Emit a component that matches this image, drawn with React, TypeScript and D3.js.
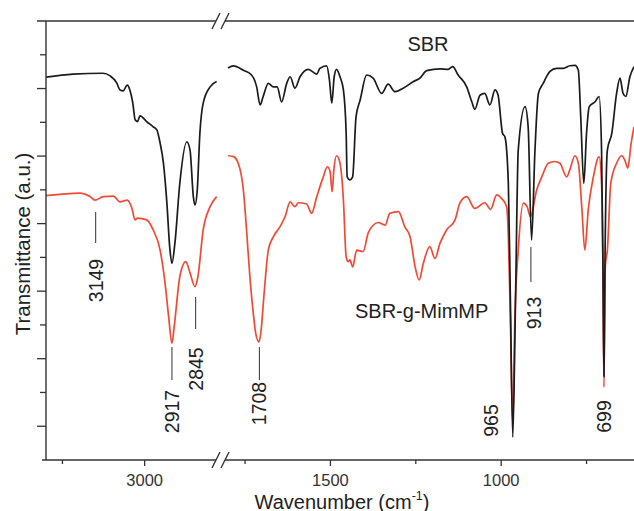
import React from "react";
import * as d3 from "d3";

// ---------- data (wavenumber cm-1, transmittance a.u.) ----------
const sbrHigh: [number, number][] = [
  [3300, 87.2], [3218, 87.9], [3127, 88.1], [3105, 87.5], [3085, 85.9], [3075, 84.3], [3065, 84.1],
  [3053, 85.4], [3045, 84.3], [3036, 81.3], [3029, 77.5], [3022, 77.1], [3014, 78.4], [2994, 77.1],
  [2974, 75.9], [2963, 75.2], [2953, 72.2], [2943, 67.7], [2933, 59.2], [2923, 47.8], [2917, 44.8],
  [2908, 49.4], [2893, 63.1], [2872, 72.5], [2862, 70.6], [2852, 60.0], [2847, 58.1], [2840, 61.5],
  [2832, 74.5], [2822, 81.3], [2801, 85.0], [2781, 86.2],
];

const graftHigh: [number, number][] = [
  [3300, 60.2], [3197, 60.8], [3166, 60.0], [3151, 59.2], [3126, 60.0], [3095, 60.1], [3075, 58.8],
  [3053, 59.2], [3039, 57.4], [3029, 54.7], [3022, 55.1], [2994, 54.7], [2974, 52.4], [2953, 47.8],
  [2938, 40.3], [2927, 32.6], [2917, 26.6], [2909, 31.2], [2893, 41.8], [2875, 45.2], [2862, 42.6],
  [2847, 39.5], [2838, 41.8], [2822, 52.4], [2801, 57.7], [2781, 60.0],
];

const sbrLow: [number, number][] = [
  [1800, 89.3], [1784, 89.8], [1755, 88.8], [1731, 87.7], [1716, 85.0], [1706, 80.9], [1697, 82.8],
  [1682, 85.8], [1667, 85.0], [1656, 85.0], [1643, 81.6], [1628, 85.8], [1618, 87.3], [1604, 84.7],
  [1589, 87.3], [1565, 89.0], [1540, 87.9], [1531, 89.2], [1511, 89.8], [1503, 86.6], [1496, 81.3],
  [1489, 87.3], [1482, 89.0], [1472, 87.3], [1462, 84.3], [1454, 74.5], [1451, 64.5], [1443, 63.8],
  [1435, 64.5], [1425, 78.2], [1413, 82.0], [1394, 87.7], [1375, 87.0], [1350, 83.5], [1331, 85.6],
  [1311, 83.9], [1287, 84.7], [1257, 86.2], [1238, 87.0], [1218, 88.7], [1179, 89.1], [1155, 89.0],
  [1142, 89.6], [1126, 87.7], [1101, 85.0], [1086, 81.6], [1077, 79.9], [1062, 83.1], [1048, 83.5],
  [1033, 80.9], [1018, 84.3], [1009, 83.1], [996, 74.4], [989, 73.6], [979, 63.1], [973, 36.4],
  [966, 5.2], [958, 36.4], [950, 70.6], [930, 80.5], [921, 75.9], [911, 50.1], [901, 70.6],
  [891, 83.5], [877, 85.8], [857, 88.5], [838, 89.2], [818, 89.2], [799, 89.8], [784, 89.9],
  [774, 88.8], [767, 78.2], [758, 63.0], [750, 74.4], [742, 80.5], [725, 81.6], [713, 82.8],
  [706, 70.6], [702, 45.0], [699, 19.0], [696, 45.0], [689, 70.6], [676, 74.4], [662, 83.5],
  [652, 87.0], [643, 83.5], [635, 82.8], [623, 87.3], [611, 89.6],
];

const graftLow: [number, number][] = [
  [1800, 69.3], [1784, 69.1], [1770, 67.6], [1755, 61.5], [1745, 51.7], [1736, 41.8], [1727, 34.2],
  [1718, 28.5], [1709, 26.9], [1703, 29.6], [1695, 37.2], [1682, 47.8], [1667, 50.9], [1648, 53.1],
  [1633, 55.4], [1618, 58.8], [1604, 57.7], [1594, 58.6], [1570, 58.3], [1555, 56.2], [1540, 60.0],
  [1521, 64.5], [1509, 66.8], [1501, 65.7], [1495, 61.1], [1490, 66.1], [1482, 69.3], [1472, 67.6],
  [1462, 59.2], [1454, 46.3], [1448, 45.2], [1443, 45.6], [1435, 44.0], [1423, 47.8], [1404, 47.5],
  [1389, 51.8], [1360, 54.1], [1340, 53.5], [1326, 56.2], [1301, 56.6], [1282, 53.1], [1267, 50.9],
  [1252, 44.0], [1240, 41.0], [1228, 44.8], [1209, 48.6], [1194, 45.9], [1179, 49.4], [1160, 52.4],
  [1135, 54.7], [1121, 58.5], [1101, 60.0], [1077, 57.3], [1048, 58.6], [1031, 57.1], [1013, 60.4],
  [999, 59.6], [984, 57.7], [979, 50.9], [973, 31.9], [966, 8.0], [960, 31.9], [950, 47.8],
  [935, 58.5], [924, 57.7], [914, 55.4], [896, 61.5], [881, 64.5], [862, 67.6], [843, 68.0],
  [828, 67.6], [808, 64.5], [799, 66.1], [784, 69.3], [774, 67.6], [764, 57.7], [755, 47.8],
  [745, 57.0], [730, 64.5], [713, 69.1], [706, 63.0], [702, 44.0], [699, 16.6], [695, 44.2],
  [689, 47.8], [679, 63.0], [662, 67.6], [647, 69.3], [638, 68.3], [629, 66.5], [620, 71.8],
  [611, 75.9],
];

const xMajorTicks = [3000, 1500, 1000];
const xMinorTicks = [3250, 1750, 1250, 750];
const peakLabels = [3149, 2917, 2845, 1708, 965, 913, 699];
const seriesNames = ["SBR", "SBR-g-MimMP"];

// ---------- layout ----------
const W = 634;
const H = 511;
const LEFT = 46;
const TOP = 21;
const BOTTOM = 460;
const BREAK_L = 217;
const BREAK_R = 228;
const RIGHT = 634;

const annotLayout: Record<number, { line: [number, number] | null; textY: number; dx: number }> = {
  3149: { line: [212, 243], textY: 280.5, dx: 0 },
  2917: { line: [347, 380], textY: 411.5, dx: 0 },
  2845: { line: [297, 329], textY: 369, dx: 0 },
  1708: { line: [347, 380], textY: 403.5, dx: 0 },
  965: { line: null, textY: 420.5, dx: -22 },
  913: { line: [247, 282], textY: 313, dx: 3 },
  699: { line: null, textY: 416.5, dx: 0 },
};

const BLACK = "#1b1b1b";
const RED = "#ef4a33";
const AXIS = "#333";
const FONT = "'Liberation Sans', Arial, Helvetica, sans-serif";

export default function App() {
  const xL = d3.scaleLinear().domain([3300, 2780]).range([LEFT, BREAK_L]);
  const xR = d3.scaleLinear().domain([1800, 611]).range([BREAK_R, RIGHT]);
  const y = d3.scaleLinear().domain([0, 100]).range([BOTTOM, TOP]);
  const xAny = (w: number) => (w > 2000 ? xL(w) : xR(w));

  const lineL = d3
    .line<[number, number]>()
    .x((d) => xL(d[0]))
    .y((d) => y(d[1]))
    .curve(d3.curveMonotoneX);
  const lineR = d3
    .line<[number, number]>()
    .x((d) => xR(d[0]))
    .y((d) => y(d[1]))
    .curve(d3.curveMonotoneX);

  const yTicks = d3.range(1, 13).map((i) => ({ v: (i * 100) / 13, major: i % 2 === 1 }));

  const slash = (cx: number, cy: number, key: string) => (
    <line key={key} x1={cx - 4} y1={cy + 8} x2={cx + 4} y2={cy - 8} stroke={AXIS} strokeWidth={1.4} />
  );

  return (
    <div style={{ position: "fixed", left: 0, top: 0 }}>
      <svg width={W} height={H} style={{ display: "block", background: "#fff" }} fontFamily={FONT}>
        <defs>
          <clipPath id="clipL">
            <rect x={LEFT} y={TOP} width={BREAK_L - LEFT + 1} height={BOTTOM - TOP} />
          </clipPath>
          <clipPath id="clipR">
            <rect x={BREAK_R - 1} y={TOP} width={RIGHT - BREAK_R + 1} height={BOTTOM - TOP} />
          </clipPath>
        </defs>

        {/* curves */}
        <g clipPath="url(#clipL)" fill="none" strokeWidth={1.7} strokeLinejoin="round">
          <path d={lineL(graftHigh) || ""} stroke={RED} />
          <path d={lineL(sbrHigh) || ""} stroke={BLACK} />
        </g>
        <g clipPath="url(#clipR)" fill="none" strokeWidth={1.7} strokeLinejoin="round">
          <path d={lineR(graftLow) || ""} stroke={RED} />
          <path d={lineR(sbrLow) || ""} stroke={BLACK} />
        </g>

        {/* axes */}
        <line x1={LEFT} y1={TOP} x2={LEFT} y2={BOTTOM} stroke={AXIS} strokeWidth={1.4} />
        <line x1={37} y1={TOP} x2={216} y2={TOP} stroke={AXIS} strokeWidth={1.4} />
        <line x1={225} y1={TOP} x2={RIGHT} y2={TOP} stroke={AXIS} strokeWidth={1.4} />
        <line x1={42} y1={BOTTOM} x2={216} y2={BOTTOM} stroke={AXIS} strokeWidth={1.4} />
        <line x1={225} y1={BOTTOM} x2={RIGHT} y2={BOTTOM} stroke={AXIS} strokeWidth={1.4} />
        {slash(216, TOP, "t1")}
        {slash(225, TOP, "t2")}
        {slash(216, BOTTOM, "b1")}
        {slash(225, BOTTOM, "b2")}

        {yTicks.map((t, i) => (
          <line key={"yt" + i} x1={LEFT - (t.major ? 9 : 6)} x2={LEFT} y1={y(t.v)} y2={y(t.v)} stroke={AXIS} strokeWidth={1.3} />
        ))}

        {xMajorTicks.map((t) => (
          <g key={"xm" + t}>
            <line x1={xAny(t)} x2={xAny(t)} y1={BOTTOM} y2={BOTTOM + 6} stroke={AXIS} strokeWidth={1.3} />
            <text x={xAny(t)} y={486} textAnchor="middle" fontSize={16.5} fill="#333">
              {t}
            </text>
          </g>
        ))}
        {xMinorTicks.map((t) => (
          <line key={"xn" + t} x1={xAny(t)} x2={xAny(t)} y1={BOTTOM} y2={BOTTOM + 4} stroke={AXIS} strokeWidth={1.3} />
        ))}

        {/* axis titles */}
        <text x={342} y={508.5} textAnchor="middle" fontSize={20} fill="#222">
          Wavenumber (cm
          <tspan fontSize={12.5} dy={-9}>-1</tspan>
          <tspan dy={9}>)</tspan>
        </text>
        <text transform="translate(29.5,244) rotate(-90)" textAnchor="middle" fontSize={20.5} fill="#222">
          Transmittance (a.u.)
        </text>

        {/* series labels */}
        <text x={428} y={51} textAnchor="middle" fontSize={20} fill="#222">
          {seriesNames[0]}
        </text>
        <text x={355} y={318} textAnchor="start" fontSize={20} fill="#222">
          {seriesNames[1]}
        </text>

        {/* peak annotations */}
        {peakLabels.map((p) => {
          const lay = annotLayout[p];
          const px = xAny(p);
          return (
            <g key={"pk" + p}>
              {lay.line && (
                <line x1={px} x2={px} y1={lay.line[0]} y2={lay.line[1]} stroke="#444" strokeWidth={1.1} />
              )}
              <text
                transform={`translate(${px + lay.dx + 7},${lay.textY}) rotate(-90)`}
                textAnchor="middle"
                fontSize={19.5}
                fill="#222"
              >
                {p}
              </text>
            </g>
          );
        })}
      </svg>
    </div>
  );
}
